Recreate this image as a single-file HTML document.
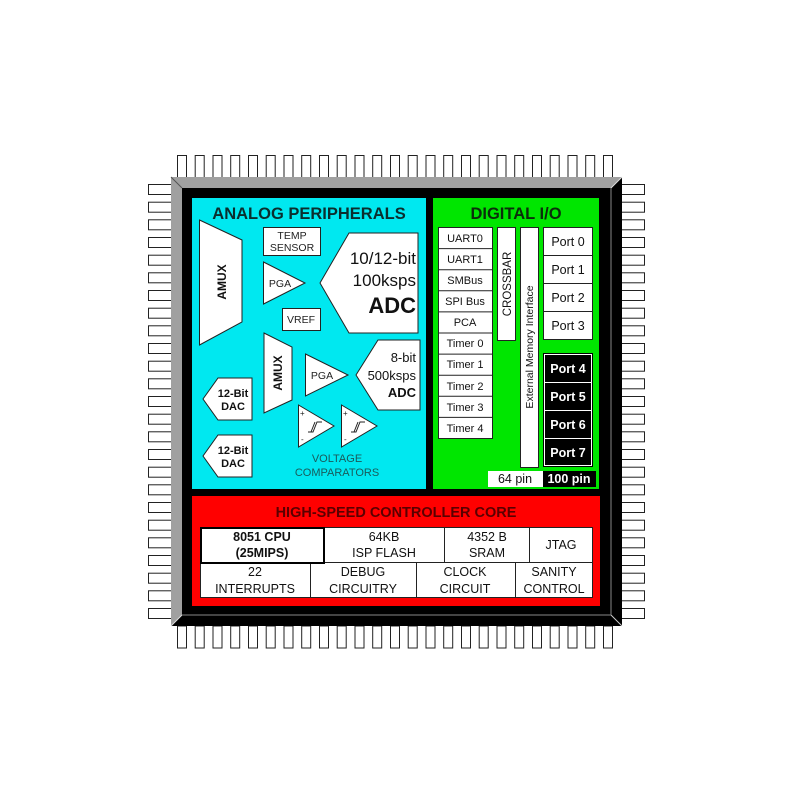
<!DOCTYPE html>
<html><head><meta charset="utf-8"><style>
html,body{margin:0;padding:0;background:#fff;width:800px;height:800px;overflow:hidden}
svg text{font-family:"Liberation Sans",Arial,sans-serif}
</style></head><body>
<svg width="800" height="800" viewBox="0 0 800 800" xmlns="http://www.w3.org/2000/svg">
<g id="pins" fill="#fff" stroke="#000" stroke-width="1">
<script>/*none*/</script>
</g>
<!-- pins generated statically -->
<g fill="#fff" stroke="#222" stroke-width="1">
<rect x="177.5" y="155.5" width="9" height="22"/><rect x="195.2" y="155.5" width="9" height="22"/><rect x="213" y="155.5" width="9" height="22"/><rect x="230.7" y="155.5" width="9" height="22"/><rect x="248.5" y="155.5" width="9" height="22"/><rect x="266.2" y="155.5" width="9" height="22"/><rect x="284" y="155.5" width="9" height="22"/><rect x="301.7" y="155.5" width="9" height="22"/><rect x="319.5" y="155.5" width="9" height="22"/><rect x="337.2" y="155.5" width="9" height="22"/><rect x="355" y="155.5" width="9" height="22"/><rect x="372.7" y="155.5" width="9" height="22"/><rect x="390.5" y="155.5" width="9" height="22"/><rect x="408.2" y="155.5" width="9" height="22"/><rect x="426" y="155.5" width="9" height="22"/><rect x="443.7" y="155.5" width="9" height="22"/><rect x="461.5" y="155.5" width="9" height="22"/><rect x="479.2" y="155.5" width="9" height="22"/><rect x="497" y="155.5" width="9" height="22"/><rect x="514.7" y="155.5" width="9" height="22"/><rect x="532.5" y="155.5" width="9" height="22"/><rect x="550.2" y="155.5" width="9" height="22"/><rect x="568" y="155.5" width="9" height="22"/><rect x="585.7" y="155.5" width="9" height="22"/><rect x="603.5" y="155.5" width="9" height="22"/>
<rect x="177.5" y="626" width="9" height="22"/><rect x="195.2" y="626" width="9" height="22"/><rect x="213" y="626" width="9" height="22"/><rect x="230.7" y="626" width="9" height="22"/><rect x="248.5" y="626" width="9" height="22"/><rect x="266.2" y="626" width="9" height="22"/><rect x="284" y="626" width="9" height="22"/><rect x="301.7" y="626" width="9" height="22"/><rect x="319.5" y="626" width="9" height="22"/><rect x="337.2" y="626" width="9" height="22"/><rect x="355" y="626" width="9" height="22"/><rect x="372.7" y="626" width="9" height="22"/><rect x="390.5" y="626" width="9" height="22"/><rect x="408.2" y="626" width="9" height="22"/><rect x="426" y="626" width="9" height="22"/><rect x="443.7" y="626" width="9" height="22"/><rect x="461.5" y="626" width="9" height="22"/><rect x="479.2" y="626" width="9" height="22"/><rect x="497" y="626" width="9" height="22"/><rect x="514.7" y="626" width="9" height="22"/><rect x="532.5" y="626" width="9" height="22"/><rect x="550.2" y="626" width="9" height="22"/><rect x="568" y="626" width="9" height="22"/><rect x="585.7" y="626" width="9" height="22"/><rect x="603.5" y="626" width="9" height="22"/>
<rect x="148.5" y="184.5" width="23" height="10"/><rect x="148.5" y="202.2" width="23" height="10"/><rect x="148.5" y="219.8" width="23" height="10"/><rect x="148.5" y="237.5" width="23" height="10"/><rect x="148.5" y="255.2" width="23" height="10"/><rect x="148.5" y="272.8" width="23" height="10"/><rect x="148.5" y="290.5" width="23" height="10"/><rect x="148.5" y="308.2" width="23" height="10"/><rect x="148.5" y="325.8" width="23" height="10"/><rect x="148.5" y="343.5" width="23" height="10"/><rect x="148.5" y="361.2" width="23" height="10"/><rect x="148.5" y="378.8" width="23" height="10"/><rect x="148.5" y="396.5" width="23" height="10"/><rect x="148.5" y="414.2" width="23" height="10"/><rect x="148.5" y="431.8" width="23" height="10"/><rect x="148.5" y="449.5" width="23" height="10"/><rect x="148.5" y="467.2" width="23" height="10"/><rect x="148.5" y="484.8" width="23" height="10"/><rect x="148.5" y="502.5" width="23" height="10"/><rect x="148.5" y="520.2" width="23" height="10"/><rect x="148.5" y="537.8" width="23" height="10"/><rect x="148.5" y="555.5" width="23" height="10"/><rect x="148.5" y="573.2" width="23" height="10"/><rect x="148.5" y="590.8" width="23" height="10"/><rect x="148.5" y="608.5" width="23" height="10"/>
<rect x="621.5" y="184.5" width="23" height="10"/><rect x="621.5" y="202.2" width="23" height="10"/><rect x="621.5" y="219.8" width="23" height="10"/><rect x="621.5" y="237.5" width="23" height="10"/><rect x="621.5" y="255.2" width="23" height="10"/><rect x="621.5" y="272.8" width="23" height="10"/><rect x="621.5" y="290.5" width="23" height="10"/><rect x="621.5" y="308.2" width="23" height="10"/><rect x="621.5" y="325.8" width="23" height="10"/><rect x="621.5" y="343.5" width="23" height="10"/><rect x="621.5" y="361.2" width="23" height="10"/><rect x="621.5" y="378.8" width="23" height="10"/><rect x="621.5" y="396.5" width="23" height="10"/><rect x="621.5" y="414.2" width="23" height="10"/><rect x="621.5" y="431.8" width="23" height="10"/><rect x="621.5" y="449.5" width="23" height="10"/><rect x="621.5" y="467.2" width="23" height="10"/><rect x="621.5" y="484.8" width="23" height="10"/><rect x="621.5" y="502.5" width="23" height="10"/><rect x="621.5" y="520.2" width="23" height="10"/><rect x="621.5" y="537.8" width="23" height="10"/><rect x="621.5" y="555.5" width="23" height="10"/><rect x="621.5" y="573.2" width="23" height="10"/><rect x="621.5" y="590.8" width="23" height="10"/><rect x="621.5" y="608.5" width="23" height="10"/>
</g>
<!-- chip body -->
<rect x="171" y="177" width="451" height="449" fill="#000"/>
<polygon points="171,177 622,177 611,188 182,188 182,615 171,626" fill="#a0a0a0"/>
<line x1="182" y1="188" x2="171" y2="177" stroke="#555"/>
<line x1="611" y1="188" x2="622" y2="177" stroke="#ddd"/>
<line x1="182" y1="615" x2="171" y2="626" stroke="#ddd"/>
<line x1="611" y1="615" x2="622" y2="626" stroke="#ccc"/>
<line x1="611" y1="188" x2="611" y2="615" stroke="#888"/>
<line x1="182" y1="615" x2="611" y2="615" stroke="#888"/>
<!-- regions -->
<rect x="192" y="198" width="234" height="291" fill="#00e8f0"/>
<rect x="433" y="198" width="166" height="291" fill="#00e600"/>
<rect x="192" y="496" width="408" height="110" fill="#f00"/>
<!-- analog -->
<text x="309" y="219" font-size="16.5" font-weight="bold" text-anchor="middle" fill="#0b2e2e">ANALOG PERIPHERALS</text>
<g fill="#fff" stroke="#222" stroke-width="1">
<polygon points="199.5,220 242,240 242,322 199.5,345"/>
<rect x="263.5" y="227.5" width="57" height="28"/>
<polygon points="263.5,262 305,283 263.5,304"/>
<rect x="282.5" y="308.5" width="38" height="22"/>
<polygon points="349,233 418,233 418,333 349,333 320,283"/>
<polygon points="264,333 292,347 292,400 264,413"/>
<polygon points="305.5,354 348,375 305.5,396"/>
<polygon points="378,340 420,340 420,410 378,410 356,375"/>
<polygon points="218,378 252,378 252,420 218,420 203,399"/>
<polygon points="218,435 252,435 252,477 218,477 203,456"/>
<polygon points="298.5,405 334,426 298.5,447"/>
<polygon points="341.5,405 377,426 341.5,447"/>
</g>
<g fill="none" stroke="#222" stroke-width="1">
<path d="M308,432 h5 l4,-10 h5 M311,432 l4,-10"/>
<path d="M351,432 h5 l4,-10 h5 M354,432 l4,-10"/>
</g>
<g font-size="8" fill="#222"><text x="300" y="416">+</text><text x="301" y="442">-</text><text x="343" y="416">+</text><text x="344" y="442">-</text></g>
<text transform="translate(226,282) rotate(-90)" font-size="12" font-weight="bold" text-anchor="middle" fill="#111">AMUX</text>
<text transform="translate(282,373) rotate(-90)" font-size="12" font-weight="bold" text-anchor="middle" fill="#111">AMUX</text>
<g font-size="10.5" fill="#222" text-anchor="middle">
<text x="292" y="239">TEMP</text><text x="292" y="251">SENSOR</text>
<text x="280" y="287">PGA</text>
<text x="301" y="323">VREF</text>
<text x="322" y="379">PGA</text>
</g>
<g fill="#111" text-anchor="end">
<text x="416" y="264" font-size="17">10/12-bit</text>
<text x="416" y="286" font-size="17">100ksps</text>
<text x="416" y="313" font-size="22" font-weight="bold">ADC</text>
<text x="416" y="362" font-size="13">8-bit</text>
<text x="416" y="380" font-size="13">500ksps</text>
<text x="416" y="397" font-size="13" font-weight="bold">ADC</text>
</g>
<g font-size="11" font-weight="bold" fill="#111" text-anchor="middle">
<text x="233" y="397">12-Bit</text><text x="233" y="410">DAC</text>
<text x="233" y="454">12-Bit</text><text x="233" y="467">DAC</text>
</g>
<g font-size="11" fill="#1a5a5a" text-anchor="middle"><text x="337" y="462">VOLTAGE</text><text x="337" y="476">COMPARATORS</text></g>
<!-- digital -->
<text x="516" y="219" font-size="16.5" font-weight="bold" text-anchor="middle" fill="#0b2e0b">DIGITAL I/O</text>
<g fill="#fff" stroke="#222" stroke-width="1">
<rect x="438.5" y="227.5" width="54" height="211"/>
<rect x="497.5" y="227.5" width="18" height="113"/>
<rect x="520.5" y="227.5" width="18" height="240"/>
<rect x="543.5" y="227.5" width="49" height="112"/>
</g>
<g stroke="#222" stroke-width="1">
<line x1="438" y1="248.6" x2="493" y2="248.6"/><line x1="438" y1="269.7" x2="493" y2="269.7"/><line x1="438" y1="290.8" x2="493" y2="290.8"/><line x1="438" y1="311.9" x2="493" y2="311.9"/><line x1="438" y1="333" x2="493" y2="333"/><line x1="438" y1="354.1" x2="493" y2="354.1"/><line x1="438" y1="375.2" x2="493" y2="375.2"/><line x1="438" y1="396.3" x2="493" y2="396.3"/><line x1="438" y1="417.4" x2="493" y2="417.4"/>
<line x1="543" y1="255.5" x2="593" y2="255.5"/><line x1="543" y1="283.5" x2="593" y2="283.5"/><line x1="543" y1="311.5" x2="593" y2="311.5"/>
</g>
<g font-size="11" fill="#111" text-anchor="middle">
<text x="465" y="242">UART0</text><text x="465" y="263">UART1</text><text x="465" y="284">SMBus</text><text x="465" y="305">SPI Bus</text><text x="465" y="326">PCA</text><text x="465" y="347">Timer 0</text><text x="465" y="368">Timer 1</text><text x="465" y="390">Timer 2</text><text x="465" y="411">Timer 3</text><text x="465" y="432">Timer 4</text>
</g>
<text transform="translate(511,284) rotate(-90)" font-size="11.5" text-anchor="middle" fill="#111">CROSSBAR</text>
<text transform="translate(533,347) rotate(-90)" font-size="10.5" text-anchor="middle" fill="#111">External Memory Interface</text>
<g font-size="12.5" fill="#111" text-anchor="middle"><text x="568" y="246">Port 0</text><text x="568" y="274">Port 1</text><text x="568" y="302">Port 2</text><text x="568" y="330">Port 3</text></g>
<rect x="543" y="353" width="50" height="114" fill="#000"/>
<g fill="none" stroke="#fff" stroke-width="1"><rect x="544.5" y="354.5" width="47" height="111"/><line x1="544" y1="382.5" x2="592" y2="382.5"/><line x1="544" y1="410.5" x2="592" y2="410.5"/><line x1="544" y1="438.5" x2="592" y2="438.5"/></g>
<g font-size="12.5" font-weight="bold" fill="#fff" text-anchor="middle"><text x="568" y="373">Port 4</text><text x="568" y="401">Port 5</text><text x="568" y="429">Port 6</text><text x="568" y="457">Port 7</text></g>
<rect x="488" y="471" width="55" height="16" fill="#fff"/>
<rect x="543" y="471" width="53" height="16" fill="#000"/>
<text x="515" y="483" font-size="12.5" text-anchor="middle" fill="#111">64 pin</text>
<text x="569" y="483" font-size="12.5" font-weight="bold" text-anchor="middle" fill="#fff">100 pin</text>
<!-- core -->
<text x="396" y="517" font-size="14.5" font-weight="bold" text-anchor="middle" fill="#5a0000">HIGH-SPEED CONTROLLER CORE</text>
<g fill="#fff" stroke="#222" stroke-width="1">
<rect x="200.5" y="527.5" width="392" height="35"/>
<rect x="200.5" y="562.5" width="392" height="35"/>
<line x1="444.5" y1="528" x2="444.5" y2="562"/><line x1="529.5" y1="528" x2="529.5" y2="562"/>
<line x1="310.5" y1="563" x2="310.5" y2="597"/><line x1="416.5" y1="563" x2="416.5" y2="597"/><line x1="515.5" y1="563" x2="515.5" y2="597"/>
</g>
<rect x="201" y="528" width="123" height="35" fill="#fff" stroke="#000" stroke-width="2"/>
<g font-size="12.5" fill="#111" text-anchor="middle">
<text x="262" y="541" font-weight="bold">8051 CPU</text><text x="262" y="557" font-weight="bold">(25MIPS)</text>
<text x="384" y="541">64KB</text><text x="384" y="557">ISP FLASH</text>
<text x="487" y="541">4352 B</text><text x="487" y="557">SRAM</text>
<text x="561" y="549">JTAG</text>
<text x="255" y="576">22</text><text x="255" y="593">INTERRUPTS</text>
<text x="363" y="576">DEBUG</text><text x="363" y="593">CIRCUITRY</text>
<text x="465" y="576">CLOCK</text><text x="465" y="593">CIRCUIT</text>
<text x="554" y="576">SANITY</text><text x="554" y="593">CONTROL</text>
</g>
</svg>
</body></html>
